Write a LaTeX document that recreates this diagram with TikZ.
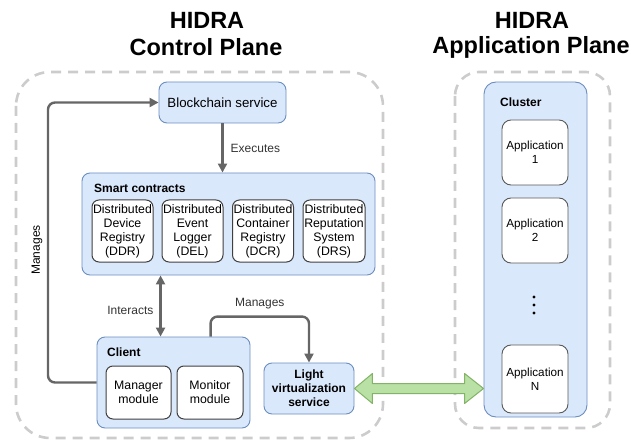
\documentclass[tikz,border=0pt]{standalone}
\usepackage{fontspec}
\setmainfont{Liberation Sans}
\usetikzlibrary{calc,arrows.meta}

\definecolor{boxfill}{HTML}{DAE8FC}
\definecolor{boxline}{HTML}{6C8EBF}
\definecolor{arrowgray}{HTML}{666666}
\definecolor{planegray}{HTML}{CCCCCC}
\definecolor{linkfill}{HTML}{B9E0A5}
\definecolor{linkline}{HTML}{82B366}
\definecolor{labelgray}{HTML}{333333}

\tikzset{
  x=1pt, y=-1pt,
  plane/.style={draw=planegray, line width=2.6pt, dash pattern=on 10pt off 7pt},
  bluebox/.style={draw=boxline, fill=boxfill, line width=0.9pt, rounded corners=8pt,
    inner sep=0pt, font=\fontsize{12.2}{14}\selectfont, align=center},
  whitebox/.style={draw=black!75, fill=white, line width=1pt, rounded corners=7pt,
    inner sep=0pt, font=\fontsize{12.3}{14}\selectfont, align=center},
  appbox/.style={draw=black!65, fill=white, line width=0.9pt, rounded corners=9pt,
    inner sep=0pt, font=\fontsize{11.7}{14}\selectfont, align=center},
  boxtitle/.style={font=\bfseries\fontsize{12}{14}\selectfont, anchor=west, inner sep=0pt},
  flow/.style={draw=arrowgray, line width=2.4pt, rounded corners=7pt,
    -{Triangle[length=9pt,width=9pt]}},
  flowboth/.style={draw=arrowgray, line width=2.4pt,
    {Triangle[length=9pt,width=9pt]}-{Triangle[length=9pt,width=9pt]}},
  elabel/.style={text=labelgray, font=\fontsize{12}{14}\selectfont, inner sep=0pt},
  heading/.style={font=\bfseries\fontsize{23.5}{28}\selectfont, inner sep=0pt},
}

\begin{document}
\begin{tikzpicture}
\useasboundingbox (0,0) rectangle (635,441);

% headings
\node[heading] (hl1) at (207,20) {HIDRA};
\node[heading] (hl2) at (206,47) {Control Plane};
\node[heading] (hr1) at (532,20) {HIDRA};
\node[heading] (hr2) at (531,47) {Application Plane};

% plane outlines
\draw[plane, rounded corners=34pt] (16,72) rectangle (383,438);
\draw[plane, rounded corners=24pt] (455,72) rectangle (610,428);

% control plane
\node[bluebox, minimum width=127pt, minimum height=41pt, font=\fontsize{13.3}{15}\selectfont]
  (bc) at (222.5,102.5) {Blockchain service};

\node[bluebox, minimum width=293pt, minimum height=102pt] (sc) at (228.5,224) {};
\node[boxtitle] (sct) at (94,188) {Smart contracts};
\node[whitebox, minimum width=61pt, minimum height=62pt] (ddr) at (122.5,231)
  {Distributed\\Device\\Registry\\(DDR)};
\node[whitebox, minimum width=61pt, minimum height=62pt] (del) at (192.5,231)
  {Distributed\\Event\\Logger\\(DEL)};
\node[whitebox, minimum width=61pt, minimum height=62pt] (dcr) at (263,231)
  {Distributed\\Container\\Registry\\(DCR)};
\node[whitebox, minimum width=62pt, minimum height=62pt] (drs) at (334,231)
  {Distributed\\Reputation\\System\\(DRS)};

\node[bluebox, minimum width=153pt, minimum height=91pt] (cl) at (173.5,382.5) {};
\node[boxtitle] (clt) at (107,352) {Client};
\node[whitebox, minimum width=65pt, minimum height=53pt] (mgr) at (138.5,392.5) {Manager\\module};
\node[whitebox, minimum width=66pt, minimum height=53pt] (mon) at (210,392.5) {Monitor\\module};

\node[bluebox, minimum width=90pt, minimum height=51pt, font=\bfseries\fontsize{12}{14}\selectfont]
  (lv) at (309,388.5) {Light\\virtualization\\service};

% application plane
\node[bluebox, minimum width=103pt, minimum height=335pt, rounded corners=12pt] (cu) at (535.5,249.5) {};
\node[boxtitle] (cut) at (500,102) {Cluster};
\node[appbox, minimum width=66pt, minimum height=65pt] (a1) at (535,152.5) {Application\\1};
\node[appbox, minimum width=66pt, minimum height=65pt] (a2) at (535,230.5) {Application\\2};
\node[appbox, minimum width=66pt, minimum height=68pt] (an) at (535,379) {Application\\N};
\foreach \yy in {297,305,313} \fill (534,\yy) circle (1.6pt);

% connectors
\draw[flow] (bc.south) -- node[elabel, anchor=west, xshift=7pt] (lx) {Executes} (bc.south |- sc.north);

\coordinate (ia) at ($(cl.north west)+(64,0)$);
\draw[flowboth] (ia) -- node[elabel, anchor=east, xshift=-6pt, yshift=-4pt] (li) {Interacts} (ia |- sc.south);

\coordinate (mr) at ($(cl.north west)+(114,0)$);
\draw[flow] (mr) -- ($(mr)+(0,-20)$) -| node[elabel, pos=0.25, yshift=13pt] (lm1) {Manages} (lv.north);

\coordinate (mbend) at (48,0);
\draw[flow] (cl.west) -| (mbend |- bc.west) -- (bc.west);
\node[elabel, text=black, rotate=90] (lm2) at (37,250) {Manages};

% two-way link between the planes
\coordinate (gl) at (lv.east);
\coordinate (gr) at (cu.west |- lv.east);
\draw[draw=linkline, fill=linkfill, line width=1pt, line join=round]
  (gl) -- ($(gl)+(18,-15)$) -- ($(gl)+(18,-5)$) -- ($(gr)+(-19,-5)$) -- ($(gr)+(-19,-15)$)
  -- (gr) -- ($(gr)+(-19,15)$) -- ($(gr)+(-19,5)$) -- ($(gl)+(18,5)$) -- ($(gl)+(18,15)$) -- cycle;
\end{tikzpicture}
\end{document}
